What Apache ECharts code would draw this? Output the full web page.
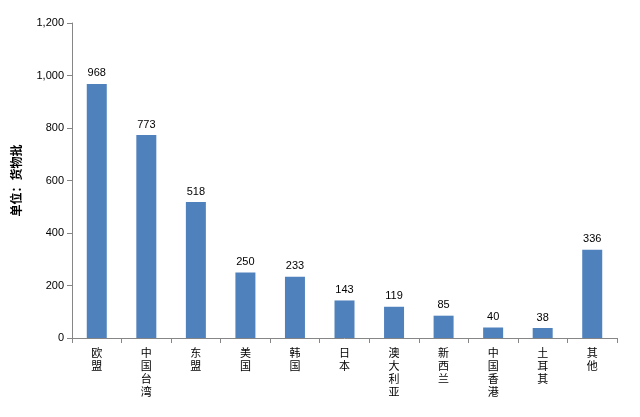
<!DOCTYPE html>
<html><head><meta charset="utf-8">
<script src="https://cdn.jsdelivr.net/npm/echarts@6/dist/echarts.min.js"></script>
<style>html,body{margin:0;padding:0;background:#fff}#c{width:640px;height:417px}</style>
</head><body><div id="c"></div>
<script>
const categories = ['欧盟','中国台湾','东盟','美国','韩国','日本','澳大利亚','新西兰','中国香港','土耳其','其他'];
const values = [968,773,518,250,233,143,119,85,40,38,336];
const yTicks = [0,200,400,600,800,1000,1200];
const chart = echarts.init(document.getElementById('c'));
chart.setOption({
  animation:false,
  grid:{left:72,right:23,top:23,bottom:79},
  xAxis:{type:'category',data:categories,
    axisLine:{lineStyle:{color:'#868686'}},axisTick:{show:true,alignWithLabel:false,lineStyle:{color:'#868686'}},
    axisLabel:{interval:0,color:'#000',fontSize:11,fontFamily:'Noto Sans CJK SC',lineHeight:13,
      formatter:v=>v.split('').join('\n')}},
  yAxis:{type:'value',min:yTicks[0],max:yTicks[yTicks.length-1],interval:200,
    name:'单位：货物批',nameLocation:'middle',nameGap:50,nameRotate:90,
    nameTextStyle:{fontWeight:'bold',fontSize:12,color:'#000',fontFamily:'Noto Sans CJK SC'},
    axisLine:{show:true,lineStyle:{color:'#868686'}},axisTick:{show:true,lineStyle:{color:'#868686'}},
    splitLine:{show:false},axisLabel:{color:'#000',fontSize:11,fontFamily:'Liberation Sans'}},
  series:[{type:'bar',data:values,barWidth:20,itemStyle:{color:'#4f81bd'},
    label:{show:true,position:'top',color:'#000',fontSize:11,fontFamily:'Liberation Sans'}}]
});
</script></body></html>
